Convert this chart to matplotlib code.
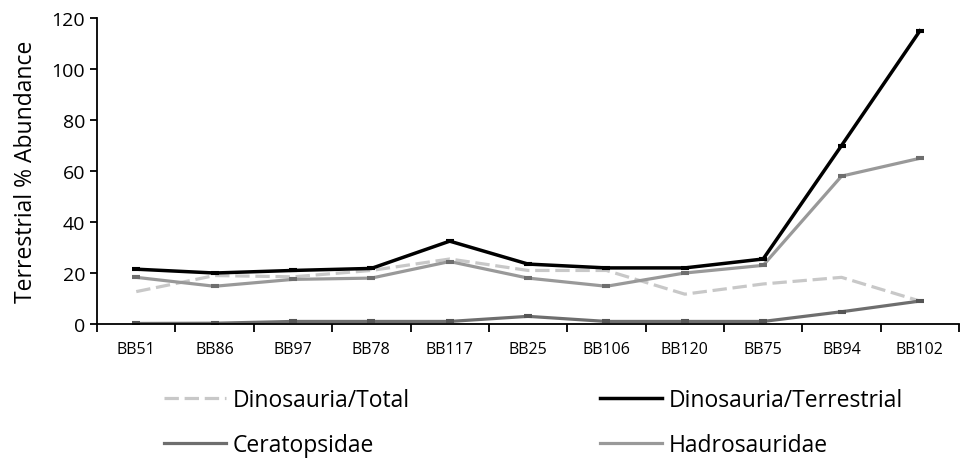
import numpy as np
import matplotlib.pyplot as plt

plt.rcParams['font.family'] = ['Open Sans', 'DejaVu Sans']

sites = ['BB51', 'BB86', 'BB97', 'BB78', 'BB117', 'BB25', 'BB106', 'BB120', 'BB75', 'BB94', 'BB102']
dino_total = [12.7, 19.0, 18.5, 21.0, 25.5, 21.0, 21.0, 11.7, 15.7, 18.3, 9.0]
dino_terr = [21.5, 20.0, 21.0, 21.8, 32.5, 23.5, 22.0, 22.0, 25.5, 70.0, 115.0]
ceratopsidae = [0.2, 0.3, 1.0, 1.0, 1.0, 3.0, 1.0, 1.0, 1.0, 4.8, 9.0]
hadrosauridae = [18.3, 14.8, 17.5, 18.0, 24.5, 18.0, 14.8, 20.0, 23.0, 58.0, 65.0]

fig = plt.figure(figsize=(9.61, 4.6), dpi=100)
ax = fig.add_axes([0.101, 0.2935, 0.897, 0.665])

x = np.arange(len(sites))
ax.plot(x, dino_total, color='#c8c8c8', lw=2.3, ls=(0, (4.5, 1.8)), label='Dinosauria/Total')
ax.plot(x, ceratopsidae, color='#6e6e6e', lw=2.3, label='Ceratopsidae')
ax.plot(x, dino_terr, color='black', lw=2.5, label='Dinosauria/Terrestrial')
ax.plot(x, hadrosauridae, color='#999999', lw=2.3, label='Hadrosauridae')

# small error caps as in the original
for ys, c in [(dino_terr, 'black'), (hadrosauridae, '#6e6e6e'), (ceratopsidae, '#555555')]:
    ax.errorbar(x, ys, yerr=0.4, fmt='none', ecolor=c, elinewidth=1, capsize=3, capthick=1.5)

ax.set_xlim(-0.5, len(sites) - 0.5)
ax.set_ylim(0, 120)
ax.set_yticks(np.arange(0, 121, 20))
ax.set_xticks(x)
ax.set_xticklabels(sites)
ax.set_xticks(np.arange(-0.5, len(sites), 1), minor=True)
ax.tick_params(axis='x', which='major', length=0, pad=12, labelsize=11.5)
ax.tick_params(axis='x', which='minor', length=6, width=1.3, direction='out')
ax.tick_params(axis='y', length=5, width=1.3, labelsize=14)
ax.set_ylabel('Terrestrial % Abundance', fontsize=16.5, labelpad=10)
ax.spines['top'].set_visible(False)
ax.spines['right'].set_visible(False)
ax.spines['left'].set_linewidth(1.3)
ax.spines['bottom'].set_linewidth(1.3)

fig.legend(loc='lower left', bbox_to_anchor=(0.149, -0.04), ncol=2, frameon=False,
           fontsize=16.5, handlelength=2.7, handletextpad=0.3, columnspacing=8.3,
           labelspacing=0.9)

fig.savefig('out.png', dpi=100)
